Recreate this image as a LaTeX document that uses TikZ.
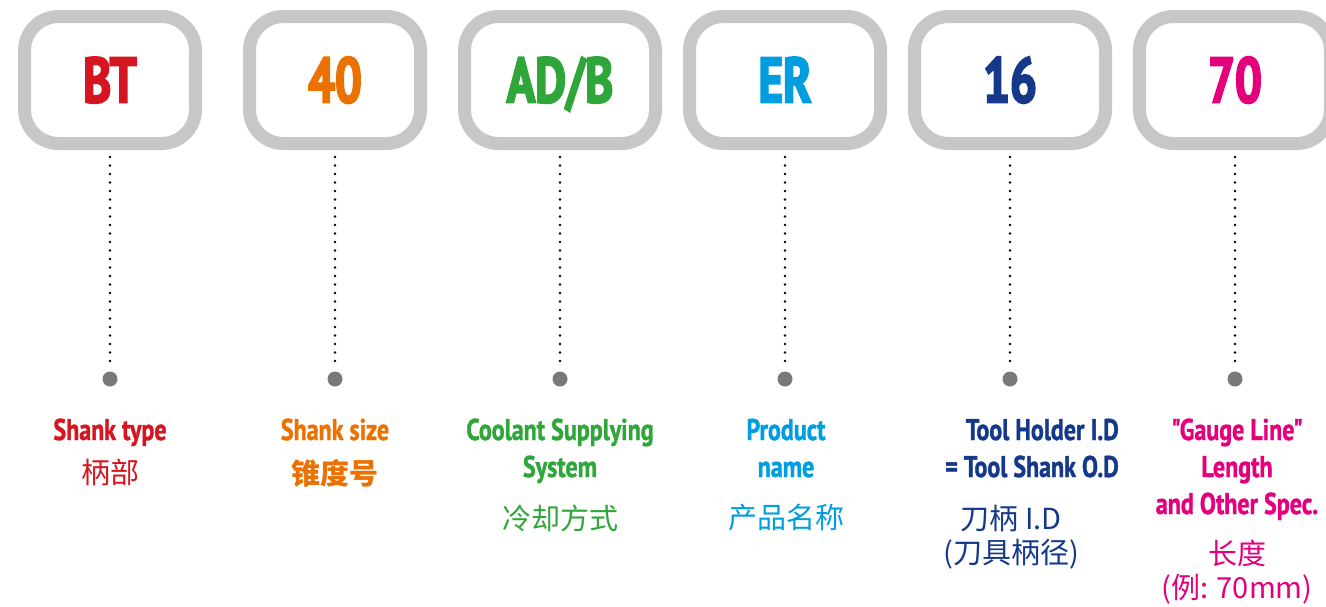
\documentclass[tikz,border=0pt]{standalone}
\usepackage{fontspec}
\setmainfont{PT Sans}
\newfontfamily\condfont[FakeStretch=0.74,BoldFeatures={FakeBold=3}]{PT Sans}
\newfontfamily\labfont[FakeStretch=0.8,BoldFeatures={FakeBold=1.2}]{PT Sans}
\newfontfamily\cjk{Noto Sans CJK SC}
\usetikzlibrary{positioning}

\definecolor{boxgray}{RGB}{198,199,199}
\definecolor{dotgray}{RGB}{119,121,124}
\definecolor{typered}{RGB}{213,22,33}
\definecolor{sizeorange}{RGB}{236,113,3}
\definecolor{coolgreen}{RGB}{47,166,58}
\definecolor{namecyan}{RGB}{0,158,224}
\definecolor{bodynavy}{RGB}{20,56,138}
\definecolor{specmagenta}{RGB}{228,0,125}

\begin{document}
\begin{tikzpicture}[
    x=1pt, y=-1pt,
    node distance=225pt,
    on grid,
    code box/.style={draw=boxgray,line width=13pt,rounded corners=34pt,minimum width=171pt,minimum height=127pt,
      text height=45pt,text depth=0pt,inner sep=0pt,font=\condfont\bfseries\fontsize{64pt}{64pt}\selectfont},
    wide box/.style={code box,minimum width=191pt},
    pin dot/.style={circle,fill=dotgray,minimum size=15pt,inner sep=0pt},
    leader/.style={draw=black,line width=2.8pt,line cap=round,dash pattern=on 0pt off 8.5pt,shorten <=7pt,shorten >=6pt},
    en label/.style={anchor=base,inner sep=0pt,font=\labfont\bfseries\fontsize{30pt}{36pt}\selectfont},
    cn label/.style={inner sep=0pt,font=\cjk\fontsize{29pt}{35pt}\selectfont}]

  \useasboundingbox (0,0) rectangle (1326,606);

  % code boxes
  \node[code box,text=typered] (BT) at (110,80) {BT};
  \node[code box,text=sizeorange] (Size) [right=of BT] {40};
  \node[wide box,text=coolgreen] (Coolant) [right=of Size] {AD/B};
  \node[wide box,text=namecyan] (Name) [right=of Coolant] {ER};
  \node[wide box,text=bodynavy] (Bore) [right=of Name] {16};
  \node[wide box,text=specmagenta] (Gauge) [right=of Bore] {70};

  % pins
  \node[pin dot] (dotBT) [below=299pt of BT] {};
  \node[pin dot] (dotSize) [below=299pt of Size] {};
  \node[pin dot] (dotCoolant) [below=299pt of Coolant] {};
  \node[pin dot] (dotName) [below=299pt of Name] {};
  \node[pin dot] (dotBore) [below=299pt of Bore] {};
  \node[pin dot] (dotGauge) [below=299pt of Gauge] {};

  \path
    (BT) edge[leader] (dotBT)
    (Size) edge[leader] (dotSize)
    (Coolant) edge[leader] (dotCoolant)
    (Name) edge[leader] (dotName)
    (Bore) edge[leader] (dotBore)
    (Gauge) edge[leader] (dotGauge);

  % labels
  \node[en label,text=typered] (BTen) at (110,440) {Shank type};
  \node[cn label,text=typered] (BTcn) at (110,472) {柄部};

  \node[en label,text=sizeorange] (Sizeen) at (335,440) {Shank size};
  \node[cn label,text=sizeorange,font=\cjk\bfseries\fontsize{29pt}{35pt}\selectfont] (Sizecn) at (335,473) {锥度号};

  \node[en label,text=coolgreen] (Coolanten) at (560,440) {Coolant Supplying};
  \node[en label,text=coolgreen] (Coolanten2) at (560,477) {System};
  \node[cn label,text=coolgreen] (Coolantcn) at (560,518) {冷却方式};

  \node[en label,text=namecyan] (Nameen) at (786,440) {Product};
  \node[en label,text=namecyan] (Nameen2) at (786,477) {name};
  \node[cn label,text=namecyan] (Namecn) at (786,518) {产品名称};

  \node[en label,anchor=base east,text=bodynavy] (Boreen) at (1119,440) {Tool Holder I.D};
  \node[en label,anchor=base east,text=bodynavy] (Boreen2) at (1119,477) {= Tool Shank O.D};
  \node[cn label,text=bodynavy] (Borecn) at (1011,519) {刀柄 I.D};
  \node[cn label,text=bodynavy] (Borecn2) at (1011,554) {(刀具柄径)};

  \node[en label,text=specmagenta] (Gaugeen) at (1237,440) {"Gauge Line"};
  \node[en label,text=specmagenta] (Gaugeen2) at (1237,477) {Length};
  \node[en label,text=specmagenta] (Gaugeen3) at (1237,514) {and Other Spec.};
  \node[cn label,text=specmagenta] (Gaugecn) at (1237,553) {长度};
  \node[cn label,text=specmagenta] (Gaugecn2) at (1237,589) {(例: 70mm)};
\end{tikzpicture}
\end{document}
